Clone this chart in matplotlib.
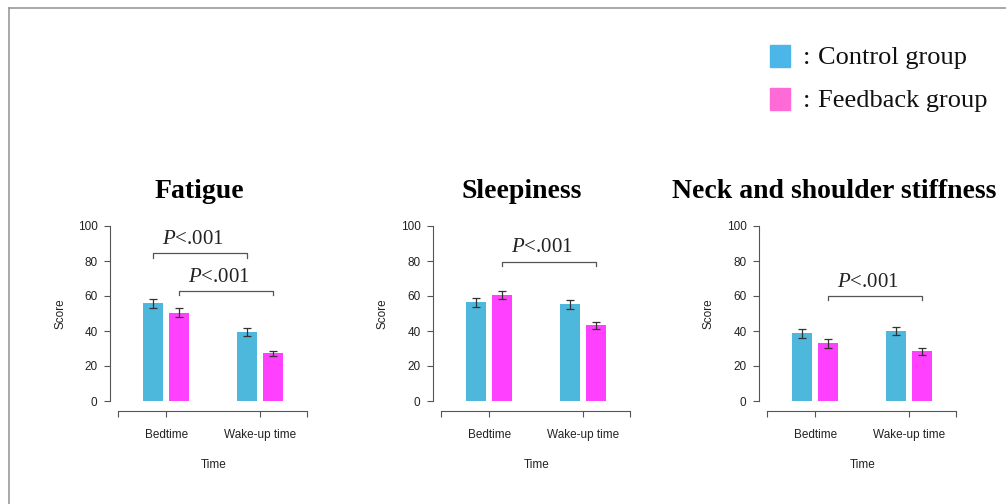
import matplotlib.pyplot as plt
from matplotlib.patches import Rectangle
from matplotlib.lines import Line2D

plt.rcParams['mathtext.fontset'] = 'custom'
plt.rcParams['mathtext.it'] = 'Liberation Serif:italic'
plt.rcParams['mathtext.rm'] = 'Liberation Serif'
plt.rcParams['font.family'] = 'Liberation Sans'

# Daten
zeitpunkte = ['Bedtime', 'Wake-up time']
titel = ['Fatigue', 'Sleepiness', 'Neck and shoulder stiffness']
kontrolle = [[55.8, 39.3], [56.5, 55.2], [38.7, 40.2]]
feedback = [[50.5, 27.2], [60.4, 43.4], [33.0, 28.3]]
kontrolle_fehler = [[2.5, 2.2], [2.5, 2.5], [2.5, 2.3]]
feedback_fehler = [[2.5, 1.6], [2.3, 2.0], [2.5, 2.0]]
# Signifikanz: (Gruppe links, Index links, Gruppe rechts, Index rechts, Höhe)
klammern = [
    [('k', 0, 'k', 1, 84.5), ('f', 0, 'f', 1, 62.8)],
    [('f', 0, 'f', 1, 79.6)],
    [('f', 0, 'f', 1, 60.0)],
]

farbe_k = '#4DB8DB'
farbe_f = '#FF40FF'
W, H = 1006, 504
fig = plt.figure(figsize=(W / 100, H / 100), dpi=100)

# Rahmen
fig.add_artist(Line2D([9 / W, 9 / W], [0, 1 - 8 / H], color='#999999', lw=1.2))
fig.add_artist(Line2D([9 / W, 1], [1 - 8 / H, 1 - 8 / H], color='#999999', lw=1.2))

linke_kante = [110, 433, 759]
einheit = 94.0
versatz = 0.138
breite = 0.213
x_links = -0.6
x_rechts = 1.6
grau = '#555555'
breite_px = (x_rechts - x_links) * einheit

for i in range(3):
    ax = fig.add_axes([linke_kante[i] / W, (H - 401) / H, breite_px / W, 175 / H])
    ax.set_xlim(x_links, x_rechts)
    ax.set_ylim(0, 100)
    xs = [0, 1]
    ax.bar([x - versatz for x in xs], kontrolle[i], width=breite, color=farbe_k)
    ax.bar([x + versatz for x in xs], feedback[i], width=breite, color=farbe_f)
    ax.errorbar([x - versatz for x in xs], kontrolle[i], yerr=kontrolle_fehler[i],
                fmt='none', ecolor='#333333', elinewidth=0.9, capsize=3, capthick=0.9)
    ax.errorbar([x + versatz for x in xs], feedback[i], yerr=feedback_fehler[i],
                fmt='none', ecolor='#333333', elinewidth=0.9, capsize=3, capthick=0.9)

    for g1, i1, g2, i2, h in klammern[i]:
        xa = i1 + (-versatz if g1 == 'k' else versatz)
        xb = i2 + (-versatz if g2 == 'k' else versatz)
        ax.plot([xa, xa, xb, xb], [h - 2.5, h, h, h - 2.5], color=grau, lw=0.9,
                clip_on=False)
        ax.text((xa + xb) / 2 - 0.08, h + 2.5, r'$P$<.001', ha='center',
                va='bottom', fontsize=15, family='Liberation Serif',
                color='#222222')

    for s in ['top', 'right']:
        ax.spines[s].set_visible(False)
    ax.spines['left'].set_color(grau)
    ax.spines['left'].set_bounds(0, 100)
    ax.spines['bottom'].set_color(grau)
    ax.spines['bottom'].set_position(('outward', 7))
    ax.spines['bottom'].set_bounds(-0.51, 1.5)
    ax.set_yticks([0, 20, 40, 60, 80, 100])
    ax.set_xticks([-0.51, 0, 1, 1.5])
    ax.set_xticklabels(['', zeitpunkte[0], zeitpunkte[1], ''])
    ax.tick_params(axis='y', length=4, pad=5, labelsize=8.5, color=grau,
                   labelcolor='#222222')
    ax.tick_params(axis='x', length=4, pad=9, labelsize=8.5, color=grau,
                   labelcolor='#222222')
    ax.set_ylabel('Score', fontsize=8.5, color='#222222')
    ax.yaxis.set_label_coords(-44 / breite_px, 0.5)
    ax.set_xlabel('Time', fontsize=8.5, color='#222222')
    ax.xaxis.set_label_coords((0.5 - x_links) / (x_rechts - x_links), -0.33)
    if i < 2:
        ax.text(89 / breite_px, 1.2, titel[i], transform=ax.transAxes,
                ha='center', va='center', fontsize=20, fontweight='bold',
                family='Liberation Serif')
    else:
        ax.text(-87 / breite_px, 1.2, titel[i], transform=ax.transAxes,
                ha='left', va='center', fontsize=20, fontweight='bold',
                family='Liberation Serif')

# Legende
for y, farbe, text in [(56, '#4DB6E8', 'Control group'),
                       (99, '#FF6BD6', 'Feedback group')]:
    fig.add_artist(Rectangle((770 / W, (H - y - 11) / H), 20 / W, 22 / H,
                             color=farbe, transform=fig.transFigure))
    fig.text(803 / W, (H - y - 2) / H, ':', ha='left', va='center', fontsize=19,
             family='Liberation Serif', color='#111111')
    fig.text(818 / W, (H - y - 2) / H, text, ha='left', va='center', fontsize=19,
             family='Liberation Serif', color='#111111')

fig.savefig('out.png', dpi=100)
